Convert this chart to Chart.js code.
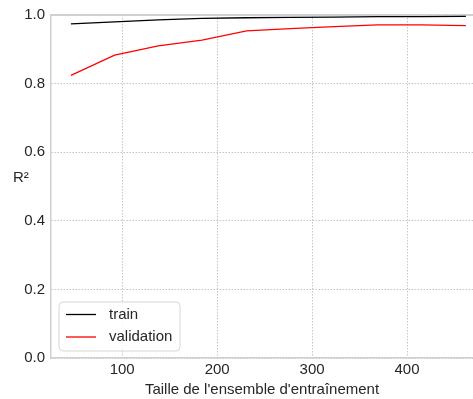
<!DOCTYPE html>
<html>
<head>
<meta charset="utf-8">
<script src="https://cdn.jsdelivr.net/npm/chart.js@4/dist/chart.umd.min.js"></script>
<style>
  html, body { margin: 0; padding: 0; background: #fff; }
</style>
</head>
<body>
<canvas id="c" width="473" height="399"></canvas>
<script>
// ---------- data ----------
const trainSizes = [46, 92, 138, 184, 231, 277, 323, 369, 415, 462];
const trainScores = [0.974, 0.980, 0.986, 0.990, 0.992, 0.993, 0.994, 0.995, 0.995, 0.996];
const validScores = [0.824, 0.883, 0.910, 0.927, 0.954, 0.960, 0.966, 0.971, 0.971, 0.969];
const xTicks = [100, 200, 300, 400];
const yTicks = [0, 0.2, 0.4, 0.6, 0.8, 1.0];
const seriesLabels = ['train', 'validation'];

const FONT = '"Liberation Sans", Arial, sans-serif';
const FS = 15;
const TEXT = '#262626';
const GRID = '#b8b8b8';
const SPINE = '#d0d0d0';

// legend inside the plot, lower left (matplotlib style)
const insideLegend = {
  id: 'insideLegend',
  afterDraw(chart) {
    const { ctx, chartArea } = chart;
    const x = chartArea.left + 8, y = chartArea.bottom - 56;
    const w = 121, h = 49;
    ctx.save();
    ctx.beginPath();
    ctx.roundRect(x, y, w, h, 4);
    ctx.fillStyle = 'rgba(255,255,255,0.85)';
    ctx.fill();
    ctx.strokeStyle = '#d6d6d6';
    ctx.lineWidth = 1;
    ctx.stroke();
    ctx.font = FS + 'px ' + FONT;
    ctx.textBaseline = 'middle';
    chart.data.datasets.forEach((ds, i) => {
      const ly = y + 12.5 + i * 22.5;
      ctx.beginPath();
      ctx.moveTo(x + 7, ly);
      ctx.lineTo(x + 37, ly);
      ctx.strokeStyle = ds.borderColor;
      ctx.lineWidth = 1.3;
      ctx.stroke();
      ctx.fillStyle = TEXT;
      ctx.fillText(ds.label, x + 50, ly);
    });
    ctx.restore();
  }
};

// horizontal "R²" ylabel
const yLabel = {
  id: 'yLabel',
  afterDraw(chart) {
    const { ctx, chartArea } = chart;
    ctx.save();
    ctx.font = FS + 'px ' + FONT;
    ctx.fillStyle = TEXT;
    ctx.textBaseline = 'middle';
    ctx.fillText('R²', 13, (chartArea.top + chartArea.bottom) / 2 - 9);
    ctx.restore();
  }
};

// top spine (right one falls off the canvas in the original)
const topSpine = {
  id: 'topSpine',
  beforeDatasetsDraw(chart) {
    const { ctx, chartArea: a } = chart;
    ctx.save();
    ctx.strokeStyle = SPINE;
    ctx.lineWidth = 2;
    ctx.beginPath();
    ctx.moveTo(a.left, a.top);
    ctx.lineTo(a.right, a.top);
    ctx.stroke();
    ctx.restore();
  }
};

new Chart(document.getElementById('c'), {
  type: 'line',
  data: {
    datasets: [
      {
        label: seriesLabels[0],
        data: trainSizes.map((x, i) => ({ x, y: trainScores[i] })),
        borderColor: '#000000',
        borderWidth: 1.3,
        pointRadius: 0,
        tension: 0,
      },
      {
        label: seriesLabels[1],
        data: trainSizes.map((x, i) => ({ x, y: validScores[i] })),
        borderColor: '#ff0000',
        borderWidth: 1.3,
        pointRadius: 0,
        tension: 0,
      },
    ],
  },
  options: {
    animation: false,
    responsive: false,
    layout: { padding: { top: 15, right: 0, left: 0, bottom: 0 } },
    plugins: {
      legend: { display: false },
      tooltip: { enabled: false },
    },
    scales: {
      x: {
        type: 'linear',
        min: 25,
        max: 469.5,
        afterBuildTicks: (s) => { s.ticks = xTicks.map(v => ({ value: v })); },
        afterFit: (s) => { s.height = 41; },
        ticks: {
          color: TEXT,
          font: { family: FONT, size: FS },
          padding: 3,
          maxRotation: 0,
        },
        grid: { color: GRID, drawTicks: false, lineWidth: 0.8 },
        // in v4 border.dash styles the grid lines
        border: { display: true, color: SPINE, width: 1.5, dash: [1.5, 1.5] },
        title: {
          display: true,
          text: "Taille de l'ensemble d'entraînement",
          color: TEXT,
          font: { family: FONT, size: FS },
          padding: { top: 0, bottom: 0 },
        },
      },
      y: {
        min: 0,
        max: 1.0,
        afterBuildTicks: (s) => { s.ticks = yTicks.map(v => ({ value: v })); },
        afterFit: (s) => { s.width = 51; },
        ticks: {
          color: TEXT,
          font: { family: FONT, size: FS },
          padding: 6,
          callback: (v) => v.toFixed(1),
        },
        grid: { color: GRID, drawTicks: false, lineWidth: 0.8 },
        border: { display: true, color: SPINE, width: 1.5, dash: [1.5, 1.5] },
      },
    },
  },
  plugins: [topSpine, insideLegend, yLabel],
});
</script>
</body>
</html>
